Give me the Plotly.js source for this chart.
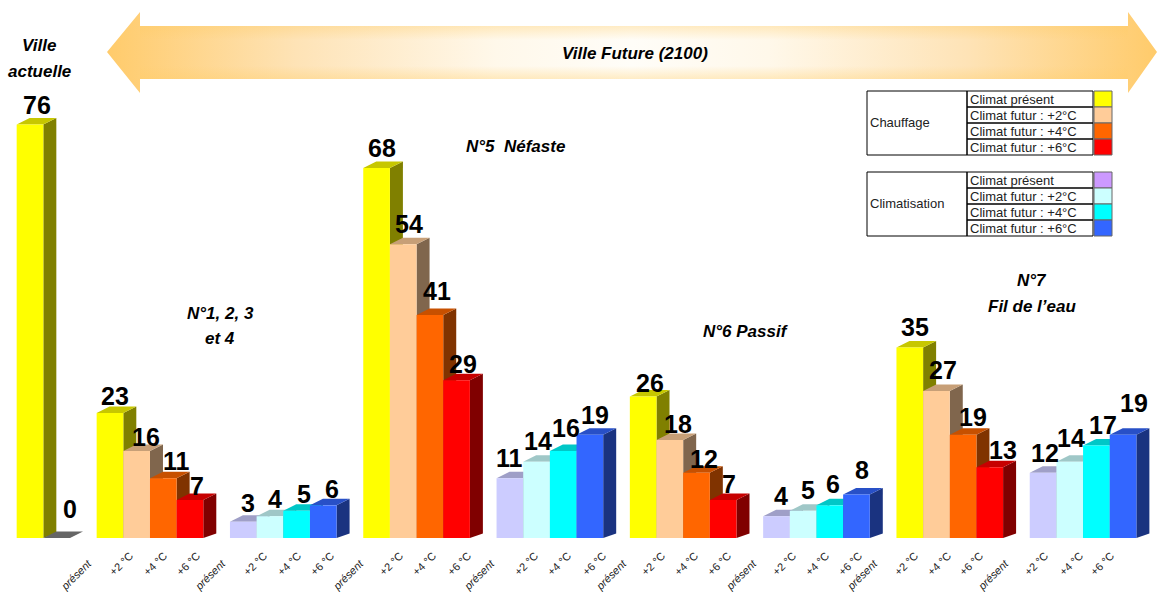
<!DOCTYPE html>
<html>
<head>
<meta charset="utf-8">
<script src="https://cdn.plot.ly/plotly-3.0.1.min.js"></script>
<style>body{margin:0;background:#fff}</style>
</head>
<body>
<div id="myDiv" style="width:1157px;height:592px"></div>
<script>
// slot number of each bar along the x axis, empty slots are the gaps
var slots = [0, 1,
  3, 4, 5, 6, 8, 9, 10, 11,
  13, 14, 15, 16, 18, 19, 20, 21,
  23, 24, 25, 26, 28, 29, 30, 31,
  33, 34, 35, 36, 38, 39, 40, 41];
var values = [76, 0,
  23, 16, 11, 7, 3, 4, 5, 6,
  68, 54, 41, 29, 11, 14, 16, 19,
  26, 18, 12, 7, 4, 5, 6, 8,
  35, 27, 19, 13, 12, 14, 17, 19];
var heatColors = ['#FFFF00', '#FFCC99', '#FF6600', '#FF0000'];
var coolColors = ['#CCCCFF', '#CCFFFF', '#00FFFF', '#3366FF'];
var legendCoolColors = ['#CC99FF', '#CCFFFF', '#00FFFF', '#3366FF'];
var legendRows = ['Climat présent', 'Climat futur : +2°C', 'Climat futur : +4°C', 'Climat futur : +6°C'];

// label nudges in pixels, the value labels sit a bit irregularly in the picture
var nudgeX = [7, 13,
  5, 9, 13, 7, 5, 5, 7, 9,
  5, 6, 7, 6, 0, 1, 3, 5,
  7, 8, 7, 6, 5, 5, 3, 6,
  5, 7, 10, 13, 2, 1, 7, 11];
var nudgeY = [20, 29,
  17, 14, 17, 14, 19, 17, 17, 16,
  20, 20, 24, 16, 20, 21, 23, 20,
  14, 16, 14, 16, 20, 21, 21, 24,
  21, 21, 18, 17, 20, 24, 21, 32];

var presentTicks = [88, 222, 360, 491, 623, 753, 874, 1005];
var tempTicks = [130, 164, 197, 264, 298, 331, 400, 433, 468, 535, 568, 603,
  662, 695, 728, 793, 826, 859, 915, 948, 980, 1045, 1080, 1111];
var tempLabels = ['+2 °C', '+4 °C', '+6 °C'];

// pixel scale of the picture
var W = 1157, H = 592, BASE = 538;
var PITCH = 26.66, FIRST = 30.0, PXUNIT = 5.44;
var xRange = [-FIRST / PITCH, (W - FIRST) / PITCH];
var yRange = [0, BASE / PXUNIT];
function sx(p) { return (p - FIRST) / PITCH; }
function sy(p) { return (BASE - p) / PXUNIT; }

function shade(hex, f) {
  var r = parseInt(hex.substr(1, 2), 16) * f;
  var g = parseInt(hex.substr(3, 2), 16) * f;
  var b = parseInt(hex.substr(5, 2), 16) * f;
  return 'rgb(' + Math.round(r) + ',' + Math.round(g) + ',' + Math.round(b) + ')';
}

var barColors = [heatColors[0], coolColors[0]];
for (var g = 0; g < 4; g++) {
  barColors = barColors.concat(heatColors, coolColors);
}

var data = [];

// arrow on top
data.push({
  x: [107, 140, 140, 1128, 1128, 1157, 1128, 1128, 140, 140, 107].map(sx),
  y: [52, 12, 26, 26, 12, 52, 93, 79, 79, 93, 52].map(sy),
  mode: 'lines', line: {width: 0}, fill: 'toself',
  fillgradient: {
    type: 'horizontal',
    colorscale: [[0, '#FFCB6B'], [0.18, '#FEE3B6'], [0.37, '#FFF8EA'], [0.5, '#FFFDF8'],
      [0.63, '#FFF8EA'], [0.82, '#FEE3B6'], [1, '#FFCB6B']]
  },
  hoverinfo: 'skip', showlegend: false
});
// soft orange along the top and bottom edge of the shaft
[[26, 40, 1], [66, 79, 0]].forEach(function(b) {
  data.push({
    x: [140, 1128, 1128, 140, 140].map(sx),
    y: [b[0], b[0], b[1], b[1], b[0]].map(sy),
    mode: 'lines', line: {width: 0}, fill: 'toself',
    fillgradient: {
      type: 'vertical',
      colorscale: b[2] ? [[0, 'rgba(255,204,102,0)'], [1, 'rgba(255,204,102,0.35)']]
        : [[0, 'rgba(255,204,102,0.35)'], [1, 'rgba(255,204,102,0)']]
    },
    hoverinfo: 'skip', showlegend: false
  });
});

// 3d faces, left to right so that a top covers the side of the bar before it
var DX = 13 / PITCH, DY = 6.5 / PXUNIT, DY0 = 4.5 / PXUNIT;
slots.forEach(function(k, i) {
  var v = values[i], l = k - 0.5, r = k + 0.5;
  if (v > 0) {
    data.push({
      x: [r, r + DX, r + DX, r, r], y: [0, DY0, v + DY, v, 0],
      mode: 'lines', line: {width: 0}, fill: 'toself', fillcolor: shade(barColors[i], 0.5),
      hoverinfo: 'skip', showlegend: false
    });
  }
  data.push({
    x: [l, l + DX, r + DX, r, l], y: [v, v + DY, v + DY, v, v],
    mode: 'lines', line: {width: 0}, fill: 'toself',
    fillcolor: v > 0 ? shade(barColors[i], 0.78) : '#666666',
    hoverinfo: 'skip', showlegend: false
  });
});

// front faces on the overlay so they stay above every side face
data.push({
  type: 'bar', x: slots, y: values, width: 1, xaxis: 'x2', yaxis: 'y2',
  marker: {color: barColors, line: {width: 0}},
  hoverinfo: 'x+y', showlegend: false
});

var tempText = tempTicks.map(function(t, i) { return tempLabels[i % 3]; });

var annotations = slots.map(function(k, i) {
  return {
    x: k, y: values[i], xref: 'x2', yref: 'y2', text: String(values[i]), showarrow: false,
    xshift: nudgeX[i], yshift: nudgeY[i], xanchor: 'center', yanchor: 'middle',
    font: {family: 'Liberation Sans', size: 25, color: '#000', weight: 700}
  };
});

var titleFont = {family: 'Liberation Sans', size: 17, color: '#000', weight: 700, style: 'italic'};
[
  ['Ville', 39, 45],
  ['actuelle', 39, 71],
  ['Ville Future (2100)', 635, 53],
  ['N°5&nbsp;&nbsp;Néfaste', 515, 146],
  ['N°1, 2, 3', 220, 313],
  ['et 4', 220, 338],
  ['N°6 Passif', 746, 331],
  ['N°7', 1032, 280],
  ['Fil de l’eau', 1032, 306]
].forEach(function(t) {
  annotations.push({
    x: sx(t[1]), y: sy(t[2]), xref: 'x2', yref: 'y2', text: t[0], showarrow: false,
    xanchor: 'center', yanchor: 'middle', align: 'center', font: titleFont
  });
});

// legend tables
var shapes = [];
function rect(x0, y0, x1, y1, fill, lineColor) {
  shapes.push({
    type: 'rect', xref: 'x2', yref: 'y2', layer: 'above',
    x0: sx(x0), x1: sx(x1), y0: sy(y0), y1: sy(y1),
    fillcolor: fill, line: {color: lineColor, width: 1}
  });
}
function legendTable(top, name, colors) {
  rect(867, top, 967, top + 64, 'rgba(0,0,0,0)', '#000');
  annotations.push({
    x: sx(868), y: sy(top + 31), xref: 'x2', yref: 'y2', text: name, showarrow: false,
    xanchor: 'left', yanchor: 'middle', font: {family: 'Liberation Sans', size: 13, color: '#222'}
  });
  legendRows.forEach(function(row, i) {
    var y = top + i * 16;
    rect(967, y, 1093, y + 16, 'rgba(0,0,0,0)', '#000');
    rect(1094, y, 1112, y + 16, colors[i], '#666');
    annotations.push({
      x: sx(968), y: sy(y + 8), xref: 'x2', yref: 'y2', text: row, showarrow: false,
      xanchor: 'left', yanchor: 'middle', font: {family: 'Liberation Sans', size: 13, color: '#222'}
    });
  });
}
legendTable(91, 'Chauffage', heatColors);
legendTable(172, 'Climatisation', legendCoolColors);

var layout = {
  width: W, height: H,
  margin: {l: 0, r: 0, t: 0, b: H - BASE, pad: 0},
  paper_bgcolor: '#fff', plot_bgcolor: '#fff',
  showlegend: false,
  xaxis: {
    range: xRange, showgrid: false, zeroline: false, showline: false, fixedrange: true,
    tickmode: 'array', tickvals: presentTicks.map(sx),
    ticktext: presentTicks.map(function() { return 'présent'; }),
    tickangle: -45, ticks: 'outside', ticklen: 14, tickcolor: 'rgba(0,0,0,0)',
    tickfont: {family: 'Liberation Sans', size: 11, color: '#222', style: 'italic'}
  },
  yaxis: {range: yRange, showgrid: false, zeroline: false, showline: false, showticklabels: false, fixedrange: true},
  xaxis2: {
    range: xRange, overlaying: 'x', anchor: 'y2', showgrid: false, zeroline: false, showline: false, fixedrange: true,
    tickmode: 'array', tickvals: tempTicks.map(sx), ticktext: tempText,
    tickangle: -45, ticks: 'outside', ticklen: 6, tickcolor: 'rgba(0,0,0,0)',
    tickfont: {family: 'Liberation Sans', size: 11, color: '#222'}
  },
  yaxis2: {range: yRange, overlaying: 'y', anchor: 'x2', showgrid: false, zeroline: false, showline: false, showticklabels: false, fixedrange: true},
  shapes: shapes,
  annotations: annotations
};

Plotly.newPlot('myDiv', data, layout, {displayModeBar: false});
</script>
</body>
</html>
